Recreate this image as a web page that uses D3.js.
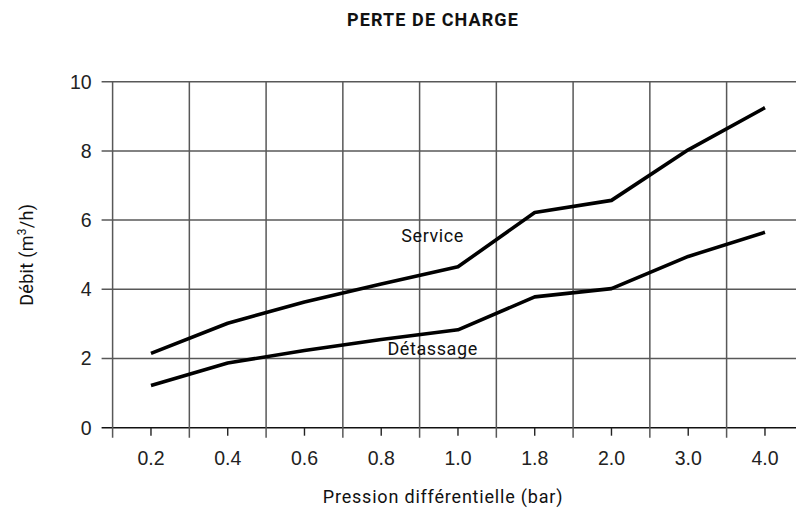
<!DOCTYPE html>
<html><head><meta charset="utf-8">
<script src="https://cdn.jsdelivr.net/npm/d3@7"></script>
<style>
html,body{margin:0;padding:0;background:#fff;overflow:hidden}
svg{display:block}
</style></head>
<body>
<svg id="chart" width="796" height="508"></svg>
<script>
// ---- data ----
const categories = ["0.2","0.4","0.6","0.8","1.0","1.8","2.0","3.0","4.0"];
const serviceValues = [2.15, 3.02, 3.63, 4.15, 4.65, 6.22, 6.57, 8.03, 9.25];
const detassageValues = [1.22, 1.87, 2.23, 2.55, 2.83, 3.78, 4.02, 4.95, 5.65];
const yTicks = [0, 2, 4, 6, 8, 10];
const seriesNames = ["Service", "Détassage"];
// label anchors in data space: [fractional category index, value]
const labelAnchors = [[3.67, 5.38], [3.67, 2.1]];

const title = "PERTE DE CHARGE";
const xTitle = "Pression différentielle (bar)";

(function () {
// ---- layout ----
const W = 796, H = 508;
const mLeft = 112.6, bandW = 76.75;
const mTop = 81.7, mBottom = 427.7;
const mRight = mLeft + bandW * categories.length;

const svg = d3.select("#chart");
const x = d3.scaleBand().domain(categories).range([mLeft, mRight]).padding(0);
const xc = d => x(d) + x.bandwidth() / 2;
const xf = i => mLeft + (i + 0.5) * x.bandwidth();
const y = d3.scaleLinear().domain([0, 10]).range([mBottom, mTop]);

const gridColor = "#585858";
const DIN = "Roboto, 'DejaVu Sans', sans-serif";
const ARIAL = "'Liberation Sans', Arial, sans-serif";

// horizontal grid + y ticks
const yg = svg.append("g");
yg.selectAll("line").data(yTicks).join("line")
  .attr("x1", mLeft - 11).attr("x2", W + 20)
  .attr("y1", d => y(d)).attr("y2", d => y(d))
  .attr("stroke", d => d === 0 ? "#111" : gridColor)
  .attr("stroke-width", d => d === 0 ? 1.4 : 1.5);
yg.selectAll("text").data(yTicks).join("text")
  .attr("x", mLeft - 21).attr("y", d => y(d)).attr("dy", "0.35em")
  .attr("text-anchor", "end")
  .attr("font-family", ARIAL).attr("font-size", 19.5).attr("fill", "#222")
  .text(d => d);

// vertical grid at band boundaries (extend below axis)
const bounds = categories.map(c => x(c)).concat([mRight]);
svg.append("g").selectAll("line").data(bounds).join("line")
  .attr("x1", d => d).attr("x2", d => d)
  .attr("y1", mTop).attr("y2", mBottom + 10)
  .attr("stroke", gridColor).attr("stroke-width", 1.5);

// category ticks
const xg = svg.append("g");
xg.selectAll("line").data(categories).join("line")
  .attr("x1", d => xc(d)).attr("x2", d => xc(d))
  .attr("y1", mBottom).attr("y2", mBottom + 8)
  .attr("stroke", "#222").attr("stroke-width", 1.4);
xg.selectAll("text").data(categories).join("text")
  .attr("x", d => xc(d)).attr("y", 465)
  .attr("text-anchor", "middle")
  .attr("font-family", ARIAL).attr("font-size", 19.5).attr("fill", "#222")
  .text(d => d);

// lines
const line = d3.line().x((d, i) => xc(categories[i])).y(d => y(d));
[serviceValues, detassageValues].forEach(vals => {
  svg.append("path").datum(vals)
    .attr("d", line)
    .attr("fill", "none").attr("stroke", "#000")
    .attr("stroke-width", 3.6).attr("stroke-linejoin", "round");
});

// series labels
seriesNames.forEach((n, i) => {
  svg.append("text")
    .attr("x", xf(labelAnchors[i][0])).attr("y", y(labelAnchors[i][1]))
    .attr("text-anchor", "middle")
    .attr("font-family", DIN).attr("font-size", 18).attr("letter-spacing", 0.6)
    .attr("fill", "#111")
    .text(n);
});

// title
svg.append("text").attr("x", 433).attr("y", 25.7)
  .attr("text-anchor", "middle")
  .attr("font-family", DIN).attr("font-weight", "bold").attr("font-size", 18)
  .attr("letter-spacing", 1.1)
  .attr("fill", "#111").text(title);

// x title
svg.append("text").attr("x", 443).attr("y", 503)
  .attr("text-anchor", "middle")
  .attr("font-family", DIN).attr("font-size", 18).attr("letter-spacing", 0.8)
  .attr("fill", "#111")
  .text(xTitle);

// y title
const yt = svg.append("text")
  .attr("transform", `translate(33,${(mTop + mBottom) / 2}) rotate(-90)`)
  .attr("text-anchor", "middle")
  .attr("font-family", DIN).attr("font-size", 18).attr("letter-spacing", 0.3)
  .attr("fill", "#111");
yt.append("tspan").text("Débit (m");
yt.append("tspan").attr("baseline-shift", "super").attr("font-size", 12).text("3");
yt.append("tspan").text("/h)");
})();
</script>
</body></html>
